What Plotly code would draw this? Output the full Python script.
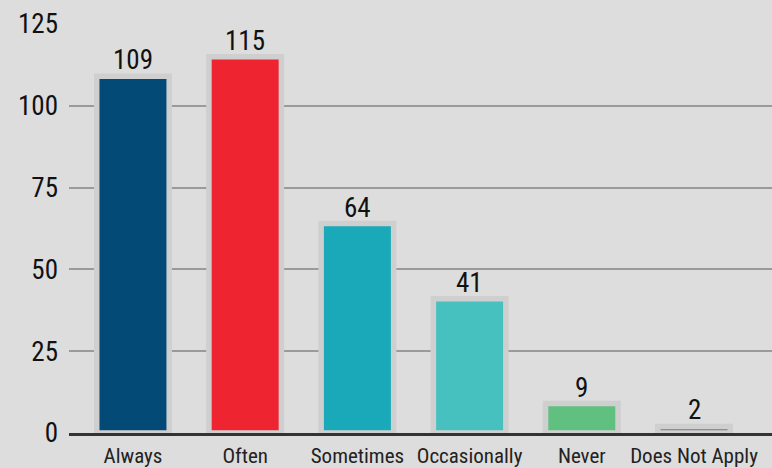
import plotly.graph_objects as go

categories = ["Always", "Often", "Sometimes", "Occasionally", "Never", "Does Not Apply"]
values = [109, 115, 64, 41, 9, 2]
colors = ["#034a77", "#ee2430", "#1aa9b9", "#46c1c0", "#5fc07f", "#777777"]
y_ticks = [0, 25, 50, 75, 100, 125]

FONT = "Roboto Condensed, Liberation Sans Narrow, DejaVu Sans Condensed, Roboto, sans-serif"

fig = go.Figure()
fig.add_trace(go.Bar(
    x=categories, y=values,
    width=0.646,
    marker=dict(color=colors, line=dict(color="#cfcfcf", width=5.5)),
    hoverinfo="x+y",
))

for c, v in zip(categories, values):
    fig.add_annotation(
        x=c, y=v, text=str(v), showarrow=False,
        yanchor="bottom", yshift=-2,
        font=dict(size=27, color="#111111", family=FONT),
    )

fig.update_layout(
    width=772, height=468,
    margin=dict(l=69, r=0, t=24, b=35),
    paper_bgcolor="#dddddd", plot_bgcolor="#dddddd",
    showlegend=False,
    font=dict(family=FONT, color="#111111"),
    bargap=0.3,
)
fig.update_xaxes(
    range=[-0.57, 5.695],
    automargin=False,
    showgrid=False,
    showline=True, linecolor="#333333", linewidth=3,
    layer="above traces",
    ticks="",
    ticklabelstandoff=2,
    tickfont=dict(size=21, family=FONT, color="#222222"),
)
fig.update_yaxes(
    range=[0, 125],
    automargin=False,
    tickvals=y_ticks,
    showgrid=True, gridcolor="#9a9a9a", gridwidth=2,
    zeroline=False,
    ticks="",
    ticklabelstandoff=10,
    tickfont=dict(size=27, family=FONT, color="#111111"),
)

fig.write_html(
    "out.html",
    config={"displayModeBar": False},
    post_script="document.body.style.margin='0';document.body.style.background='#dddddd';",
)
